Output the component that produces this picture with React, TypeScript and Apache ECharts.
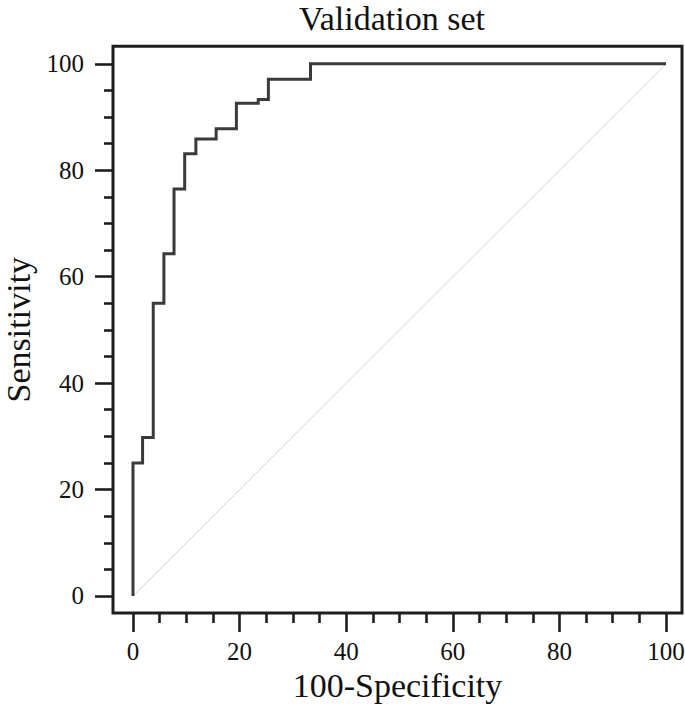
import React, { useEffect, useRef } from "react";
import * as echarts from "echarts";

// ROC curve points (100-Specificity, Sensitivity)
const fpr = [0, 0, 1.8, 1.8, 3.8, 3.8, 5.8, 5.8, 7.7, 7.7, 9.7, 9.7, 11.8, 11.8, 15.6, 15.6, 19.4, 19.4, 23.5, 23.5, 25.4, 25.4, 33.3, 33.3, 100];
const tpr = [0, 25.0, 25.0, 29.8, 29.8, 55.0, 55.0, 64.3, 64.3, 76.5, 76.5, 83.1, 83.1, 85.9, 85.9, 87.8, 87.8, 92.6, 92.6, 93.3, 93.3, 97.1, 97.1, 100, 100];
const diagX = [0, 100];
const diagY = [0, 100];

const majorTicks = [0, 20, 40, 60, 80, 100];
const minorTicks = [5, 10, 15, 25, 30, 35, 45, 50, 55, 65, 70, 75, 85, 90, 95];

const titleText = "Validation set";
const xName = "100-Specificity";
const yName = "Sensitivity";

export default function App() {
  const ref = useRef<HTMLDivElement>(null);
  useEffect(() => {
    document.body.style.margin = "0";
    const chart = echarts.init(ref.current!, null, { renderer: "svg" });
    const font = "Liberation Serif";
    const dark = "#1e1e1e";
    const textColor = "#111";
    // axis extents (frame is drawn slightly outside the 0-100 data range)
    const xMin = -3.75, xMax = 103.0, yMin = -3.2, yMax = 103.3;
    const tickLine = { color: dark, width: 2.6 };
    const baseAxis = {
      type: "value",
      gridIndex: 0,
      splitLine: { show: false },
      axisLine: { show: false, onZero: false },
    };
    chart.setOption({
      animation: false,
      backgroundColor: "#ffffff",
      textStyle: { fontFamily: font, color: textColor },
      title: {
        text: titleText,
        left: 387,
        top: -4,
        textAlign: "center",
        textStyle: { fontFamily: font, fontSize: 34, fontWeight: "normal", color: textColor },
      },
      grid: {
        left: 113, right: 3, top: 46.3, bottom: 103,
        outerBoundsMode: "none", containLabel: false,
        show: true, borderColor: dark, borderWidth: 3, backgroundColor: "transparent",
      },
      xAxis: [
        {
          ...baseAxis,
          min: xMin, max: xMax, position: "bottom", offset: 0,
          name: xName, nameLocation: "middle", nameGap: 50,
          nameTextStyle: { fontFamily: font, fontSize: 34, color: textColor },
          axisTick: { show: true, inside: false, length: 19, customValues: majorTicks, lineStyle: tickLine },
          axisLabel: { fontFamily: font, fontSize: 25, color: textColor, margin: 26, customValues: majorTicks },
        },
        {
          ...baseAxis,
          min: xMin, max: xMax, position: "bottom", offset: 0,
          axisTick: { show: true, inside: false, length: 10, customValues: minorTicks, lineStyle: tickLine },
          axisLabel: { show: false },
        },
      ],
      yAxis: [
        {
          ...baseAxis,
          min: yMin, max: yMax, position: "left", offset: 0,
          name: yName, nameLocation: "middle", nameRotate: 90, nameGap: 77,
          nameTextStyle: { fontFamily: font, fontSize: 34, color: textColor },
          axisTick: { show: true, inside: false, length: 18, customValues: majorTicks, lineStyle: tickLine },
          axisLabel: { fontFamily: font, fontSize: 25, color: textColor, margin: 29, customValues: majorTicks },
        },
        {
          ...baseAxis,
          min: yMin, max: yMax, position: "left", offset: 0,
          axisTick: { show: true, inside: false, length: 9, customValues: minorTicks, lineStyle: tickLine },
          axisLabel: { show: false },
        },
      ],
      series: [
        {
          type: "line",
          xAxisIndex: 0,
          yAxisIndex: 0,
          data: diagX.map((x, i) => [x, diagY[i]]),
          symbol: "none",
          lineStyle: { color: "#d4d4d4", width: 1 },
          z: 2,
        },
        {
          type: "line",
          xAxisIndex: 0,
          yAxisIndex: 0,
          data: fpr.map((x, i) => [x, tpr[i]]),
          symbol: "none",
          lineStyle: { color: "#3a3a3a", width: 3, join: "miter" },
          z: 3,
        },
      ],
    });
    return () => chart.dispose();
  }, []);
  return <div ref={ref} style={{ width: 685, height: 716 }} />;
}
